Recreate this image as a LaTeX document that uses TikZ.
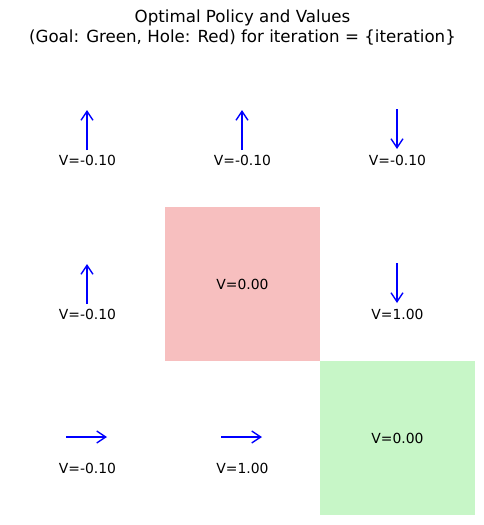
\documentclass[tikz,border=0pt]{standalone}
\usepackage{fontspec}
\setmainfont{DejaVu Sans}
\usepackage{xcolor}
\usepackage{tikz}
\usetikzlibrary{arrows.meta,positioning}

\definecolor{holered}{RGB}{247,191,191}
\definecolor{goalgreen}{RGB}{199,246,199}

\begin{document}
\begin{tikzpicture}[
        x=0.72pt, y=-0.72pt,
        cell/.style={rectangle, inner sep=0pt, minimum width=111.6pt, minimum height=111.1pt},
        val/.style={inner sep=0pt, font=\fontsize{10}{12}\selectfont},
        act/.style={-{Straight Barb[length=6.5pt,width=8.6pt]}, draw=blue, line width=1pt}
    ]
        \useasboundingbox (0,0) rectangle (484,525);

        % Title
        \node[align=center, font=\fontsize{12}{14.4}\selectfont] (title) at (242.5,28) {Optimal Policy and Values\\(Goal: Green, Hole: Red) for iteration = \{iteration\}};

        % Hole and goal cells
        \node[cell, fill=holered] (hole) at (242.5,284) {};
        \node[cell, fill=goalgreen] (goal) at (397.5,438) {};

        % Values
        \node[val] (v00) at (87.5,160) {V=-0.10};
        \node[val] (v01) at (242.5,160) {V=-0.10};
        \node[val] (v02) at (397.5,160) {V=-0.10};
        \node[val] (v10) at (87.5,314) {V=-0.10};
        \node[val] (v11) at (hole.center) {V=0.00};
        \node[val] (v12) at (397.5,314) {V=1.00};
        \node[val] (v20) at (87.5,468) {V=-0.10};
        \node[val] (v21) at (242.5,468) {V=1.00};
        \node[val] (v22) at (goal.center) {V=0.00};

        % Policy arrows
        \coordinate (p00s) at (87,150);  \coordinate (p00e) at (87,110);
        \coordinate (p01s) at (242,150); \coordinate (p01e) at (242,110);
        \coordinate (p02s) at (397,109); \coordinate (p02e) at (397,149);
        \coordinate (p10s) at (87,304);  \coordinate (p10e) at (87,264);
        \coordinate (p12s) at (397,263); \coordinate (p12e) at (397,303);
        \coordinate (p20s) at (66,437);  \coordinate (p20e) at (107,437);
        \coordinate (p21s) at (221,437); \coordinate (p21e) at (262,437);

        \draw[act] (p00s) -- (p00e);
        \draw[act] (p01s) -- (p01e);
        \draw[act] (p02s) -- (p02e);
        \draw[act] (p10s) -- (p10e);
        \draw[act] (p12s) -- (p12e);
        \draw[act] (p20s) -- (p20e);
        \draw[act] (p21s) -- (p21e);
    \end{tikzpicture}
\end{document}
